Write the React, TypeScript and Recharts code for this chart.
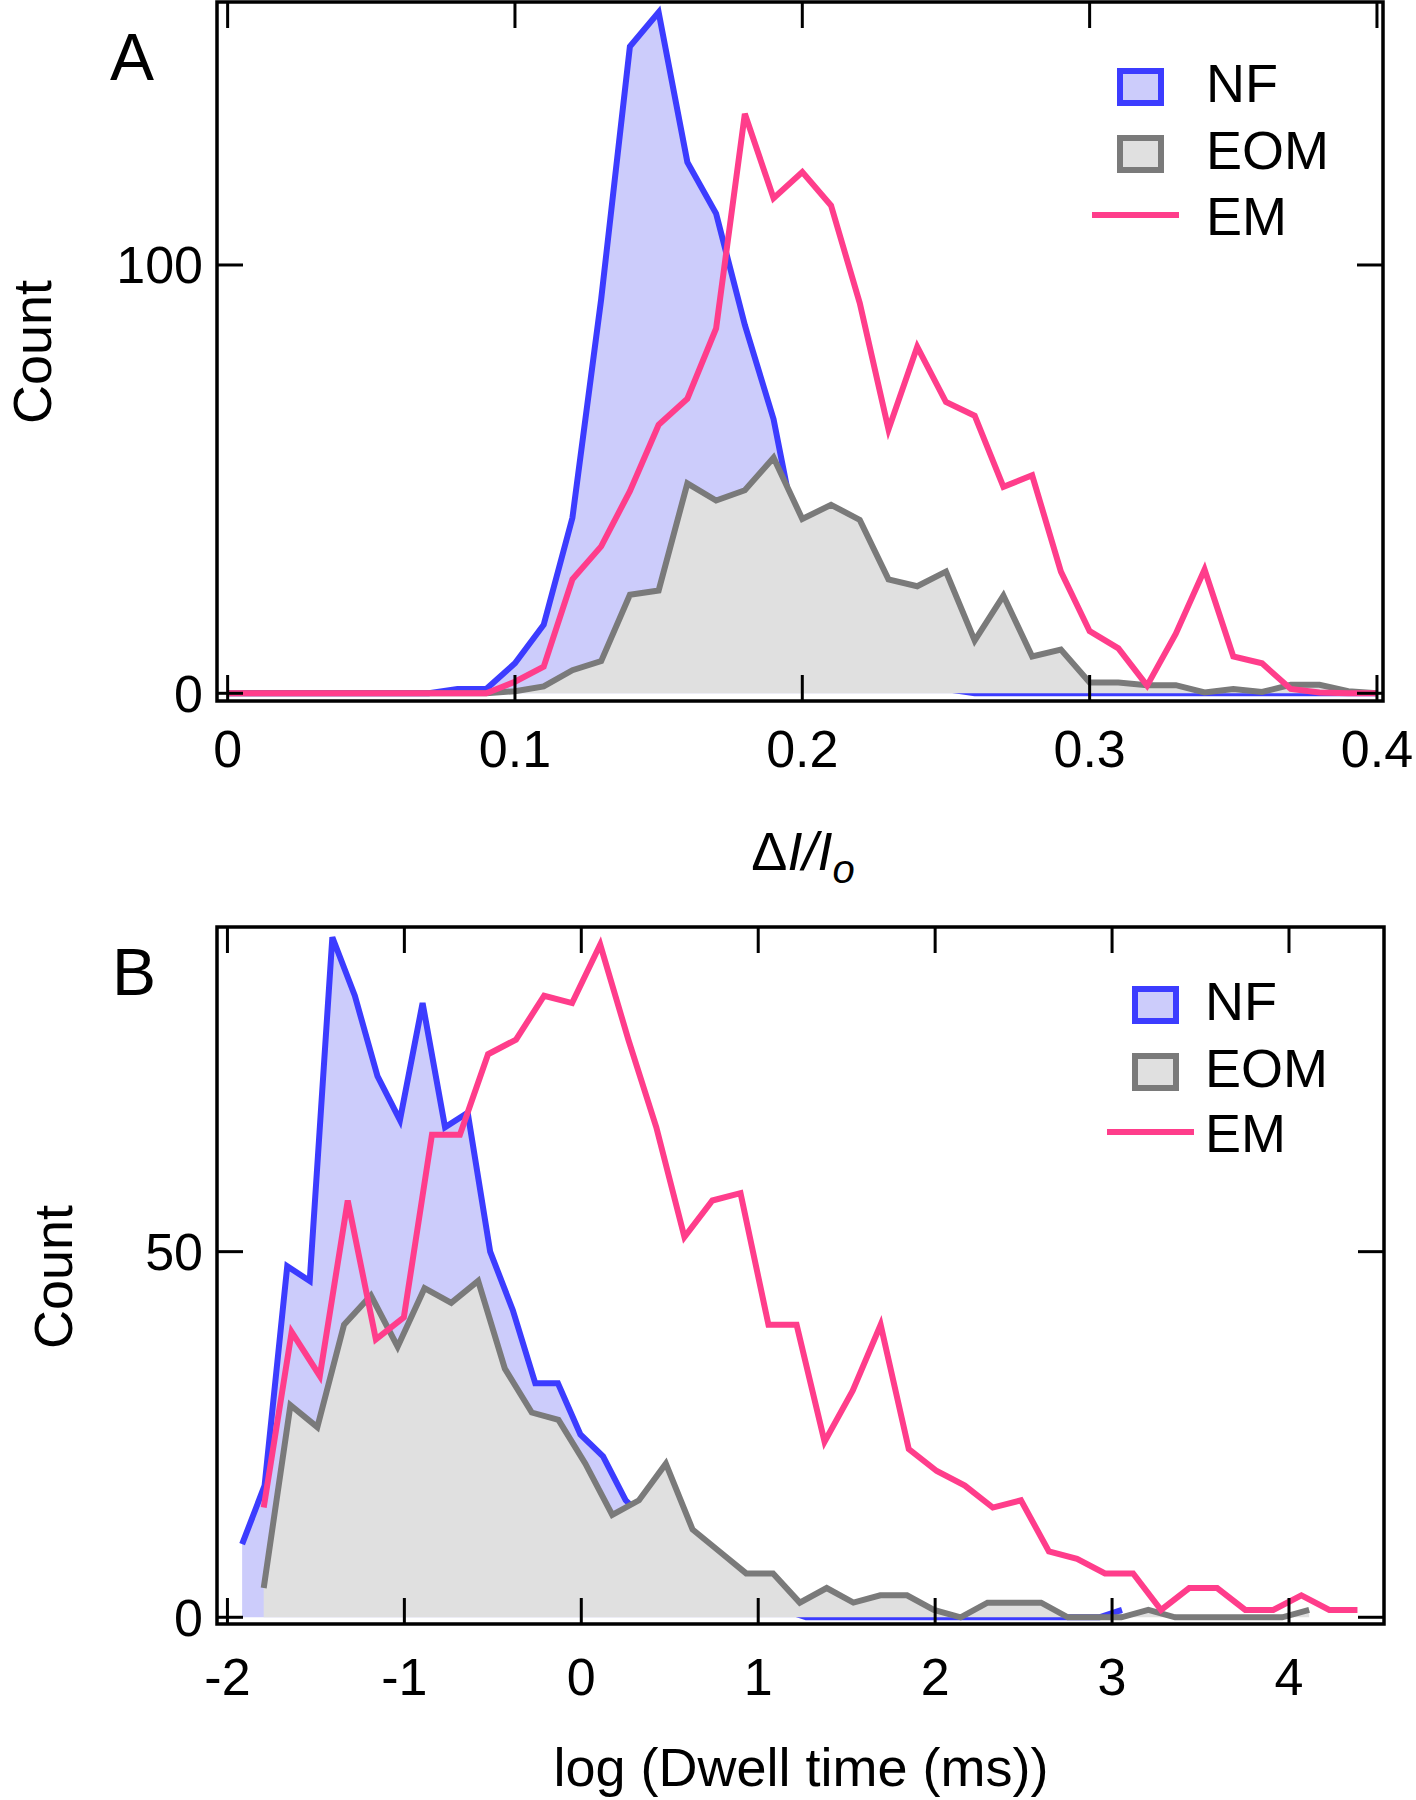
import React from "react";
import { ComposedChart, Area, Line, XAxis, YAxis, ReferenceArea, Legend } from "recharts";

const FONT = '"Liberation Sans", Arial, Helvetica, sans-serif';
const BLUE = "#3c3cff";
const BLUE_FILL = "#ccccfb";
const GRAY = "#7a7a7a";
const GRAY_FILL = "#e0e0e0";
const PINK = "#ff3d8b";
const TICK = 26;
const LINE_W = 6;

// Panel A: ΔI/Io histograms (bins of 0.01)
const ampBins = [
  0, 0.01, 0.02, 0.03, 0.04, 0.05, 0.06, 0.07, 0.08, 0.09,
  0.1, 0.11, 0.12, 0.13, 0.14, 0.15, 0.16, 0.17, 0.18, 0.19,
  0.2, 0.21, 0.22, 0.23, 0.24, 0.25, 0.26, 0.27, 0.28, 0.29,
  0.3, 0.31, 0.32, 0.33, 0.34, 0.35, 0.36, 0.37, 0.38, 0.39, 0.4,
];
const ampNF = [
  0, 0, 0, 0, 0, 0, 0, 0, 1, 1,
  7, 16, 41, 92, 151, 159, 124, 112, 86, 64,
  30, 16, 9, 5, 3, 1, 0, 0, 0, 0,
  0, 0, 0, 0, 0, 0, 0, 0, 0, 0, 0,
];
const ampEOM = [
  0, 0, 0, 0, 0, 0, 0, 0, 0, 0,
  0.5, 1.6, 5.4, 7.5, 23, 24, 49, 45, 47.4, 55,
  40.7, 44, 40.5, 26.6, 25, 28.4, 12.3, 22.8, 8.6, 10.2,
  2.5, 2.5, 1.9, 1.9, 0.2, 1, 0.3, 2, 2, 0.5, 0,
];
const ampEM = [
  0, 0, 0, 0, 0, 0, 0, 0, 0, 0,
  2.7, 6.2, 26.6, 34.3, 47.2, 62.7, 68.8, 85.2, 135.3, 115.6,
  121.7, 113.9, 91.1, 61.6, 80.9, 68, 64.8, 48.2, 50.9, 28.4,
  14.5, 10.5, 1.8, 13.9, 28.9, 8.6, 7, 1, 0.2, 0, 0,
];

// Panel B: log dwell time histograms, each set on its own bins
const dwellBinsNF = [
  -1.917, -1.79, -1.662, -1.535, -1.407, -1.28, -1.152, -1.025, -0.897, -0.77,
  -0.642, -0.515, -0.387, -0.26, -0.132, -0.005, 0.123, 0.251, 0.378, 0.506,
  0.633, 0.761, 0.888, 1.016, 1.143, 1.271, 1.398, 1.526, 1.653, 1.781,
  1.908, 2.036, 2.163, 2.291, 2.418, 2.546, 2.673, 2.801, 2.928, 3.056,
];
const dwellNF = [
  10, 18, 48, 46, 93, 85, 74, 68, 84, 67,
  69, 50, 42, 32, 32, 25, 22, 16, 13, 10,
  7, 5, 3, 2, 1, 0, 0, 0, 0, 0,
  0, 0, 0, 0, 0, 0, 0, 0, 0, 1,
];
const dwellBinsEOM = [
  -1.795, -1.644, -1.492, -1.341, -1.189, -1.038, -0.886, -0.735, -0.583, -0.432,
  -0.28, -0.129, 0.023, 0.175, 0.326, 0.478, 0.629, 0.781, 0.932, 1.084,
  1.235, 1.387, 1.538, 1.69, 1.841, 1.993, 2.144, 2.296, 2.447, 2.599,
  2.75, 2.902, 3.053, 3.205, 3.356, 3.508, 3.659, 3.811, 3.962, 4.114,
];
const dwellEOM = [
  4, 29, 26, 40, 44, 37, 45, 43, 46, 34,
  28, 27, 21, 14, 16, 21, 12, 9, 6, 6,
  2, 4, 2, 3, 3, 1, 0, 2, 2, 2,
  0, 0, 0, 1, 0, 0, 0, 0, 0, 1,
];
const dwellBinsEM = [
  -1.795, -1.637, -1.478, -1.32, -1.161, -1.003, -0.844, -0.686, -0.527, -0.369,
  -0.21, -0.052, 0.107, 0.266, 0.424, 0.583, 0.741, 0.9, 1.058, 1.217,
  1.375, 1.534, 1.692, 1.851, 2.009, 2.168, 2.326, 2.485, 2.643, 2.802,
  2.96, 3.119, 3.277, 3.436, 3.594, 3.753, 3.911, 4.07, 4.228, 4.387,
];
const dwellEM = [
  15, 39, 33, 57, 38, 41, 66, 66, 77, 79,
  85, 84, 92, 79, 67, 52, 57, 58, 40, 40,
  24, 31, 40, 23, 20, 18, 15, 16, 9, 8,
  6, 6, 1, 4, 4, 1, 1, 3, 1, 1,
];

const ampTicks = [0, 0.1, 0.2, 0.3, 0.4];
const ampCountTicks = [0, 100];
const dwellTicks = [-2, -1, 0, 1, 2, 3, 4];
const dwellCountTicks = [0, 50];

const legendItems = [
  { name: "NF", kind: "box", stroke: BLUE, fill: BLUE_FILL },
  { name: "EOM", kind: "box", stroke: GRAY, fill: GRAY_FILL },
  { name: "EM", kind: "line", stroke: PINK, fill: "none" },
];

const toPoints = (xs: number[], ys: number[]) => xs.map((x, i) => ({ x, y: ys[i] }));

type Plot = { l: number; r: number; t: number; b: number };

const makeXTick = (p: Plot, labelDy: number) => (props: any) => {
  const { x, payload } = props;
  return (
    <g>
      <line x1={x} x2={x} y1={p.b} y2={p.b - TICK} stroke="#000" strokeWidth={3} />
      <line x1={x} x2={x} y1={p.t} y2={p.t + TICK} stroke="#000" strokeWidth={3} />
      <text x={x} y={p.b + labelDy} textAnchor="middle" fontSize={52} fontFamily={FONT} fill="#000">
        {String(payload.value)}
      </text>
    </g>
  );
};

const makeYTick = (p: Plot) => (props: any) => {
  const { y, payload } = props;
  return (
    <g>
      <line x1={p.l} x2={p.l + TICK} y1={y} y2={y} stroke="#000" strokeWidth={3} />
      <line x1={p.r} x2={p.r - TICK} y1={y} y2={y} stroke="#000" strokeWidth={3} />
      <text x={p.l - 14} y={y + 18.5} textAnchor="end" fontSize={52} fontFamily={FONT} fill="#000">
        {String(payload.value)}
      </text>
    </g>
  );
};

type LegendCfg = { boxX: number; lineX0: number; lineX1: number; textX: number; rows: number[] };

const makeLegend = (cfg: LegendCfg) => () => (
  <svg width={340} height={230} style={{ display: "block", overflow: "visible" }}>
    {legendItems.map((item, i) => {
      const tb = cfg.rows[i];
      return (
        <g key={item.name}>
          {item.kind === "box" ? (
            <rect x={cfg.boxX + 3} y={tb - 31} width={41} height={32} fill={item.fill} stroke={item.stroke} strokeWidth={6} />
          ) : (
            <line x1={cfg.lineX0} x2={cfg.lineX1} y1={tb - 20} y2={tb - 20} stroke={item.stroke} strokeWidth={LINE_W} />
          )}
          <text x={cfg.textX} y={tb} fontSize={54} fontFamily={FONT} fill="#000">
            {item.name}
          </text>
        </g>
      );
    })}
  </svg>
);

type PanelProps = {
  top: number;
  plot: Plot;
  xDomain: [number, number];
  yDomain: [number, number];
  xTicks: number[];
  yTicks: number[];
  xLabelDy: number;
  nf: { x: number; y: number }[];
  eom: { x: number; y: number }[];
  em: { x: number; y: number }[];
  xTitle: () => React.ReactElement;
  countX: number;
  countY: number;
  letter: string;
  letterX: number;
  letterY: number;
  legend: LegendCfg;
};

function Panel(props: PanelProps) {
  const { plot } = props;
  const W = 1416;
  const H = 900;
  const yTitle = () => (
    <g>
      <text
        x={props.countX}
        y={props.countY}
        transform={`rotate(-90 ${props.countX} ${props.countY})`}
        textAnchor="middle"
        fontSize={54}
        fontFamily={FONT}
        fill="#000"
      >
        Count
      </text>
      <text x={props.letterX} y={props.letterY} fontSize={66} fontFamily={FONT} fill="#000">
        {props.letter}
      </text>
    </g>
  );
  return (
    <div style={{ position: "absolute", left: 0, top: props.top, width: W, height: H }}>
      <ComposedChart
        width={W}
        height={H}
        margin={{ top: plot.t, right: W - plot.r, bottom: 0, left: 0 }}
      >
        <XAxis
          type="number"
          dataKey="x"
          domain={props.xDomain}
          allowDataOverflow
          ticks={props.xTicks}
          interval={0}
          height={H - plot.b}
          tickSize={0}
          tickMargin={0}
          tickLine={false}
          axisLine={false}
          tick={makeXTick(plot, props.xLabelDy)}
          label={props.xTitle}
        />
        <YAxis
          type="number"
          domain={props.yDomain}
          allowDataOverflow
          ticks={props.yTicks}
          interval={0}
          width={plot.l}
          tickSize={0}
          tickMargin={0}
          tickLine={false}
          axisLine={false}
          tick={makeYTick(plot)}
          label={yTitle}
        />
        <Area
          data={props.nf}
          dataKey="y"
          type="linear"
          stroke={BLUE}
          strokeWidth={LINE_W}
          fill={BLUE_FILL}
          fillOpacity={1}
          baseValue={0}
          dot={false}
          activeDot={false}
          isAnimationActive={false}
        />
        <Area
          data={props.eom}
          dataKey="y"
          type="linear"
          stroke={GRAY}
          strokeWidth={LINE_W}
          fill={GRAY_FILL}
          fillOpacity={1}
          baseValue={0}
          dot={false}
          activeDot={false}
          isAnimationActive={false}
        />
        <Line
          data={props.em}
          dataKey="y"
          type="linear"
          stroke={PINK}
          strokeWidth={LINE_W}
          dot={false}
          activeDot={false}
          isAnimationActive={false}
        />
        <ReferenceArea
          x1={props.xDomain[0]}
          x2={props.xDomain[1]}
          y1={props.yDomain[0]}
          y2={props.yDomain[1]}
          fill="none"
          stroke="#000"
          strokeWidth={3.5}
          ifOverflow="visible"
        />
        <Legend
          layout="vertical"
          align="center"
          verticalAlign="middle"
          content={makeLegend(props.legend)}
          wrapperStyle={{ left: 1080, top: 50, width: 340, height: 230 }}
        />
      </ComposedChart>
    </div>
  );
}

const ampTitle = () => (
  <text x={803} y={870} textAnchor="middle" fontSize={54} fontFamily={FONT} fill="#000">
    <tspan>Δ</tspan>
    <tspan fontStyle="italic">I/I</tspan>
    <tspan fontStyle="italic" fontSize={40} dy={13}>
      o
    </tspan>
  </text>
);

const dwellTitle = () => (
  <text x={801} y={886} textAnchor="middle" fontSize={54} fontFamily={FONT} fill="#000">
    log (Dwell time (ms))
  </text>
);

export default function App() {
  return (
    <div
      style={{
        position: "absolute",
        left: 0,
        top: 0,
        width: 1416,
        height: 1800,
        background: "#fff",
        fontFamily: FONT,
      }}
    >
      <Panel
        top={0}
        plot={{ l: 217, r: 1383, t: 2, b: 701 }}
        xDomain={[-0.0037, 0.4021]}
        yDomain={[-1.8, 161.4]}
        xTicks={ampTicks}
        yTicks={ampCountTicks}
        xLabelDy={66}
        nf={toPoints(ampBins, ampNF)}
        eom={toPoints(ampBins, ampEOM)}
        em={toPoints(ampBins, ampEM)}
        xTitle={ampTitle}
        countX={51}
        countY={352}
        letter="A"
        letterX={110}
        letterY={80}
        legend={{ boxX: 37, lineX0: 12, lineX1: 99, textX: 126, rows: [52, 119, 185] }}
      />
      <Panel
        top={900}
        plot={{ l: 217, r: 1384, t: 27, b: 724 }}
        xDomain={[-2.059, 4.537]}
        yDomain={[-0.92, 94.4]}
        xTicks={dwellTicks}
        yTicks={dwellCountTicks}
        xLabelDy={71}
        nf={toPoints(dwellBinsNF, dwellNF)}
        eom={toPoints(dwellBinsEOM, dwellEOM)}
        em={toPoints(dwellBinsEM, dwellEM)}
        xTitle={dwellTitle}
        countX={72}
        countY={377}
        letter="B"
        letterX={112}
        letterY={95}
        legend={{ boxX: 52, lineX0: 27, lineX1: 114, textX: 125, rows: [70, 137, 202] }}
      />
    </div>
  );
}
